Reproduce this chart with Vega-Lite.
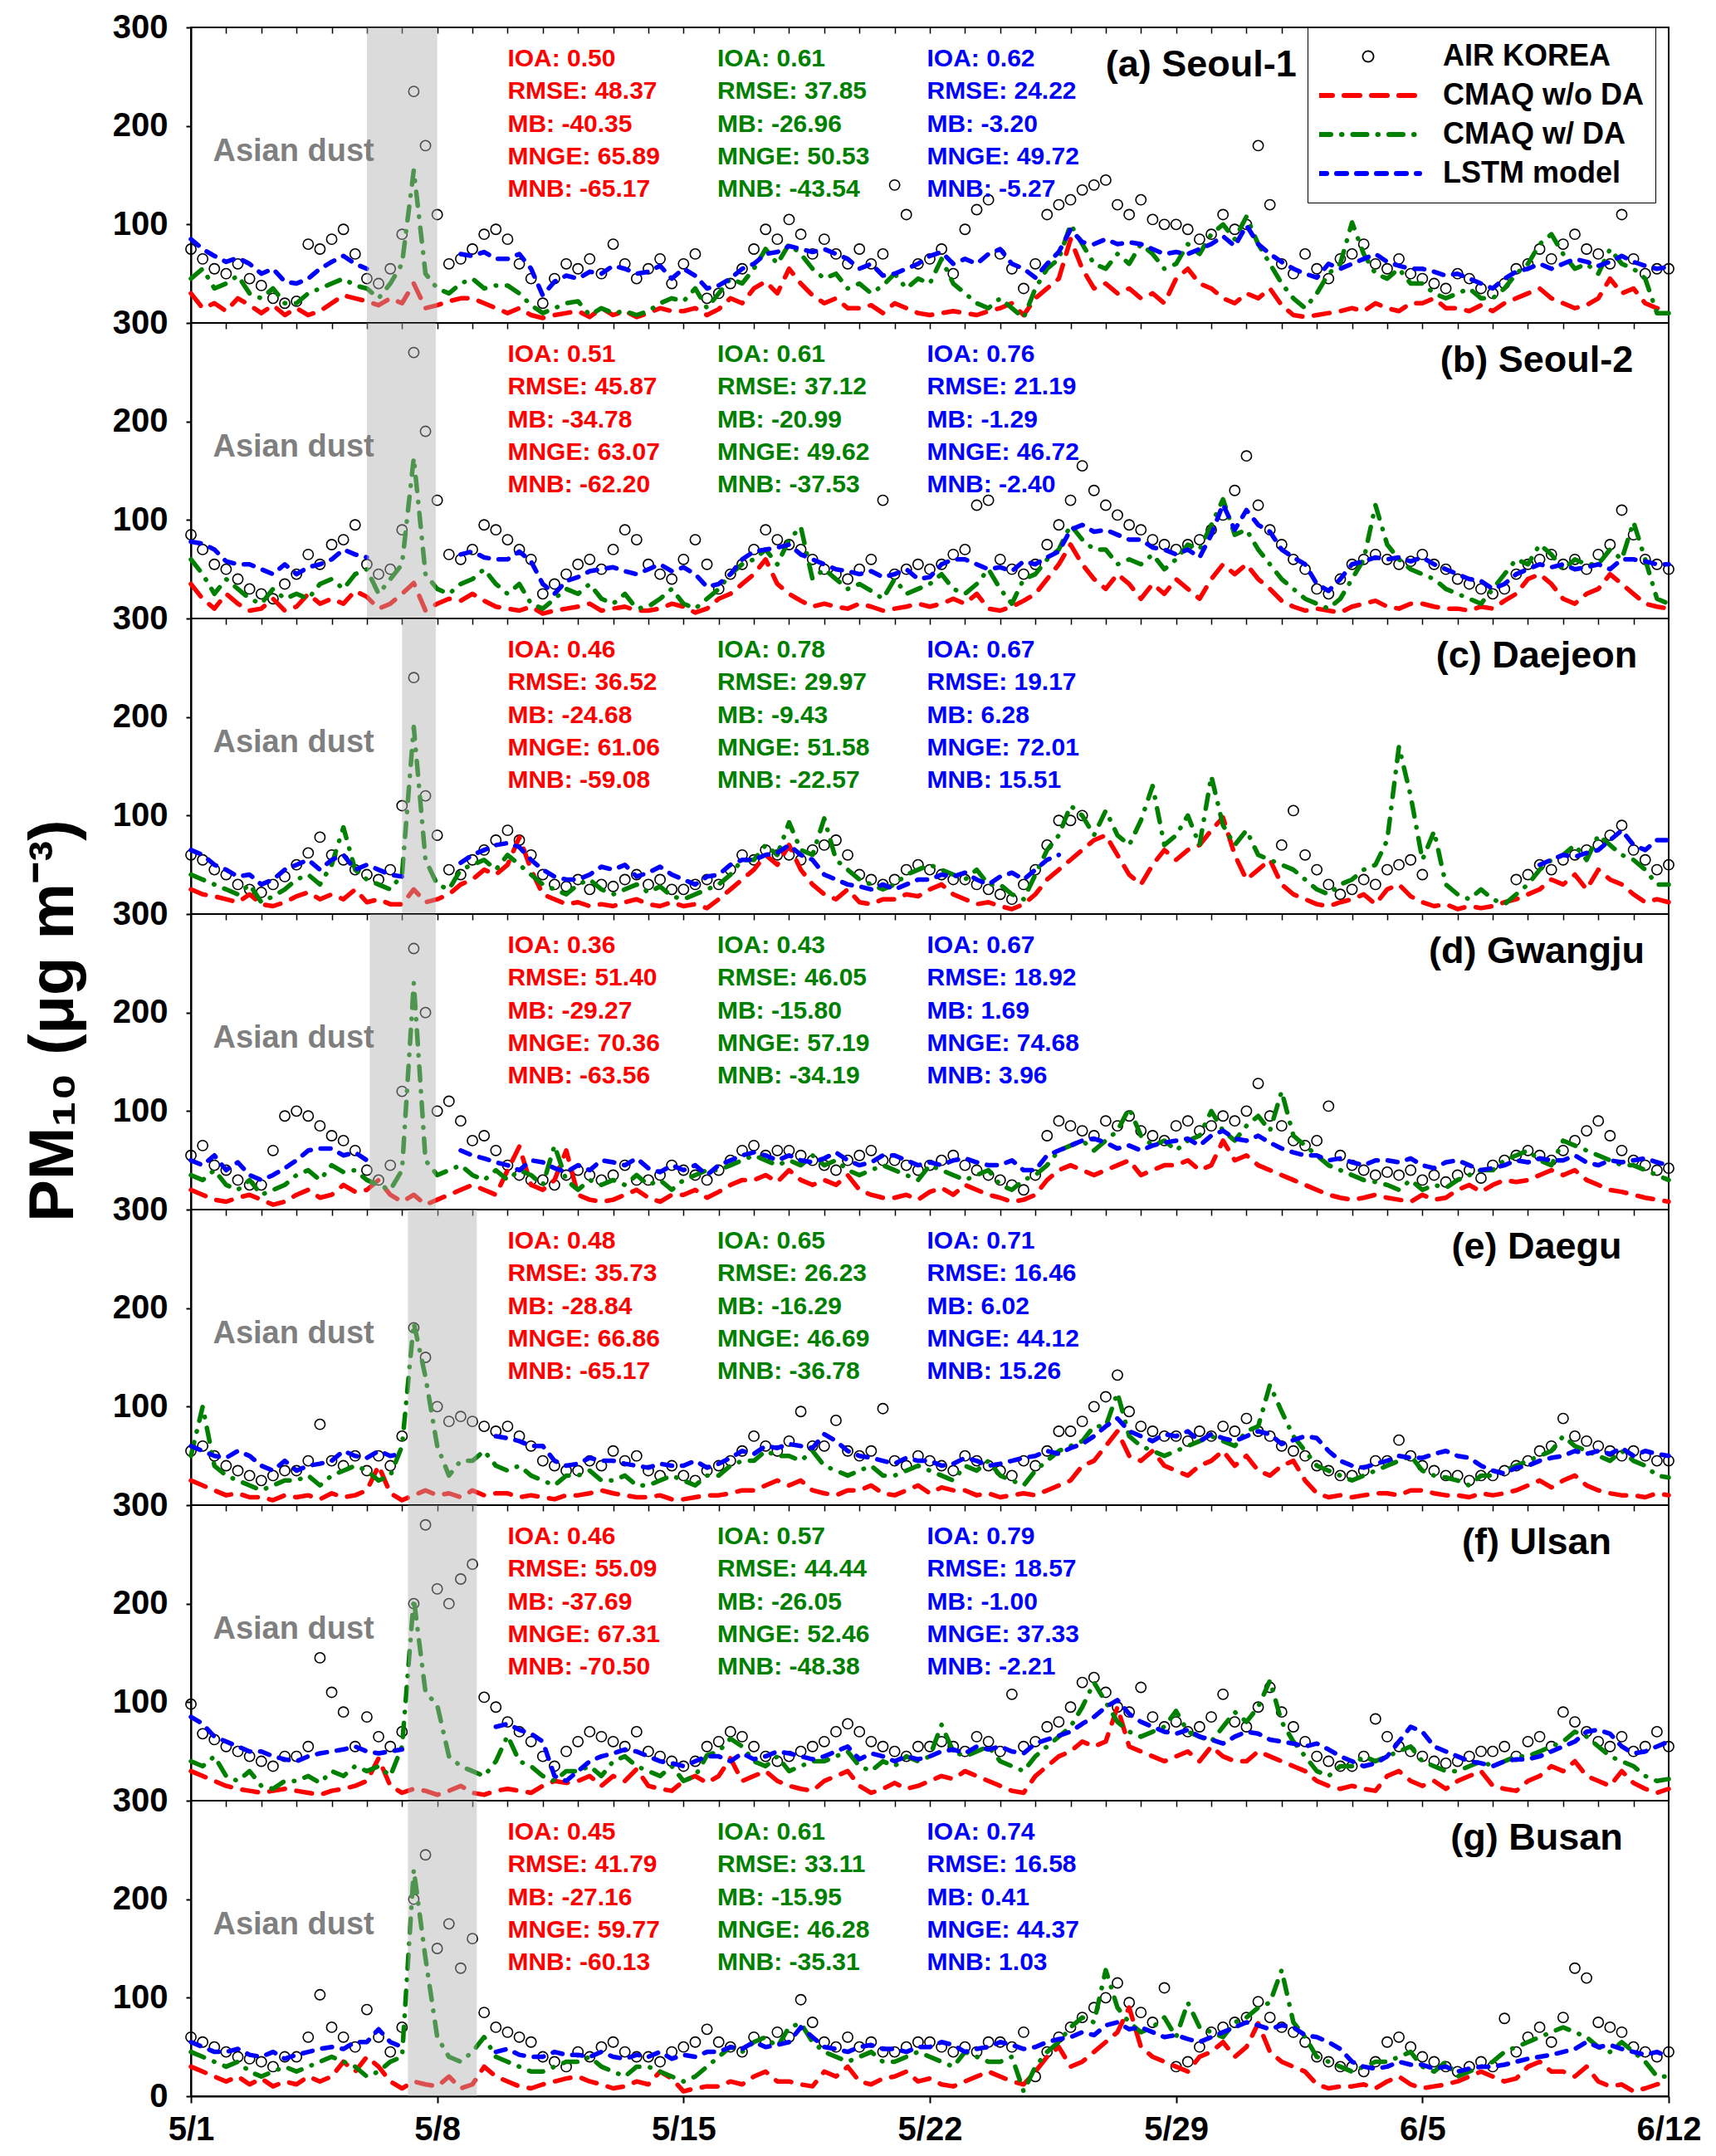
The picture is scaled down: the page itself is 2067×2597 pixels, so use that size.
{"$schema":"https://vega.github.io/schema/vega-lite/v6.json","background":"white","padding":{"left":25,"top":12,"right":10,"bottom":10},"bounds":"flush","spacing":0,
"config":{"font":"Liberation Sans","view":{"stroke":"black","strokeWidth":2},"text":{"font":"Liberation Sans","fontWeight":"bold"},
"axis":{"labelFont":"Liberation Sans","labelFontSize":40,"labelFontWeight":"bold","labelColor":"black","tickColor":"black","domainColor":"black","domainWidth":2,"tickWidth":2,"tickSize":6,"labelPadding":22,"grid":false,"titleColor":"black"}},
"resolve":{"scale":{"color":"shared","strokeDash":"shared"}},
"datasets":{
"a":[{"h":0,"o":75,"r":30,"g":45,"b":85},{"h":8,"o":65,"r":15,"g":55,"b":75},{"h":16,"o":55,"r":20,"g":35,"b":68},{"h":24,"o":50,"r":12,"g":40,"b":62},{"h":32,"o":60,"r":25,"g":48,"b":66},{"h":40,"o":45,"r":18,"g":30,"b":60},{"h":48,"o":38,"r":10,"g":25,"b":50},{"h":56,"o":25,"r":18,"g":35,"b":55},{"h":64,"o":20,"r":8,"g":20,"b":42},{"h":72,"o":22,"r":15,"g":20,"b":40},{"h":80,"o":80,"r":8,"g":30,"b":45},{"h":88,"o":75,"r":12,"g":35,"b":55},{"h":96,"o":85,"r":20,"g":40,"b":62},{"h":104,"o":95,"r":28,"g":45,"b":68},{"h":112,"o":70,"r":25,"g":38,"b":60},{"h":120,"o":45,"r":22,"g":35,"b":55},{"h":128,"o":40,"r":18,"g":25},{"h":136,"o":55,"r":25,"g":40},{"h":144,"o":90,"r":20,"g":60},{"h":152,"o":235,"r":40,"g":155},{"h":160,"o":180,"r":15,"g":50},{"h":168,"o":110,"r":18,"g":35},{"h":176,"o":60,"r":22,"g":30},{"h":184,"o":65,"r":25,"g":40,"b":70},{"h":192,"o":75,"r":25,"g":45,"b":68},{"h":200,"o":90,"r":20,"g":35,"b":72},{"h":208,"o":95,"r":15,"g":38,"b":65},{"h":216,"o":85,"r":10,"g":38,"b":65},{"h":224,"o":60,"r":15,"g":30,"b":70},{"h":232,"o":45,"r":8,"g":18,"b":55},{"h":240,"o":20,"r":5,"g":10,"b":28},{"h":248,"o":45,"r":8,"g":15,"b":42},{"h":256,"o":60,"r":10,"g":20,"b":48},{"h":264,"o":55,"r":12,"g":22,"b":45},{"h":272,"o":65,"r":6,"g":8,"b":52},{"h":280,"o":50,"r":15,"g":15,"b":50},{"h":288,"o":80,"r":8,"g":10,"b":58},{"h":296,"o":60,"r":12,"g":12,"b":55},{"h":304,"o":45,"r":6,"g":8,"b":50},{"h":312,"o":55,"r":10,"g":12,"b":52},{"h":320,"o":65,"r":15,"g":20,"b":58},{"h":328,"o":40,"r":12,"g":25,"b":45},{"h":336,"o":60,"r":12,"g":22,"b":55},{"h":344,"o":70,"r":15,"g":35,"b":48},{"h":352,"o":25,"r":8,"g":15,"b":35},{"h":360,"o":30,"r":14,"g":30,"b":38},{"h":368,"o":40,"r":25,"g":45,"b":45},{"h":376,"o":55,"r":20,"g":40,"b":55},{"h":384,"o":75,"r":35,"g":55,"b":60},{"h":392,"o":95,"r":42,"g":75,"b":70},{"h":400,"o":85,"r":30,"g":60,"b":72},{"h":408,"o":105,"r":55,"g":80,"b":78},{"h":416,"o":90,"r":40,"g":70,"b":75},{"h":424,"o":70,"r":28,"g":55,"b":72},{"h":432,"o":85,"r":20,"g":45,"b":75},{"h":440,"o":70,"r":25,"g":50,"b":70},{"h":448,"o":60,"r":15,"g":35,"b":65},{"h":456,"o":75,"r":15,"g":40,"b":55},{"h":464,"o":60,"r":18,"g":30,"b":60},{"h":472,"o":70,"r":10,"g":38,"b":48},{"h":480,"o":140,"r":20,"g":50,"b":50},{"h":488,"o":110,"r":15,"g":35,"b":55},{"h":496,"o":60,"r":10,"g":45,"b":60},{"h":504,"o":65,"r":8,"g":40,"b":68},{"h":512,"o":75,"r":10,"g":65,"b":72},{"h":520,"o":50,"r":12,"g":40,"b":60},{"h":528,"o":95,"r":10,"g":30,"b":65},{"h":536,"o":115,"r":8,"g":20,"b":60},{"h":544,"o":125,"r":12,"g":15,"b":70},{"h":552,"o":70,"r":15,"g":25,"b":75},{"h":560,"o":55,"r":20,"g":15,"b":60},{"h":568,"o":35,"r":8,"g":5,"b":55},{"h":576,"o":60,"r":25,"g":35,"b":46},{"h":584,"o":110,"r":35,"g":55,"b":60},{"h":592,"o":120,"r":45,"g":65,"b":72},{"h":600,"o":125,"r":85,"g":100,"b":95},{"h":608,"o":135,"r":55,"g":80,"b":82},{"h":616,"o":140,"r":35,"g":60,"b":80},{"h":624,"o":145,"r":40,"g":55,"b":85},{"h":632,"o":120,"r":30,"g":70,"b":80},{"h":640,"o":110,"r":35,"g":60,"b":82},{"h":648,"o":125,"r":25,"g":80,"b":80},{"h":656,"o":105,"r":30,"g":70,"b":75},{"h":664,"o":100,"r":20,"g":55,"b":70},{"h":672,"o":100,"r":45,"g":60,"b":72},{"h":680,"o":95,"r":55,"g":80,"b":70},{"h":688,"o":85,"r":40,"g":70,"b":75},{"h":696,"o":90,"r":35,"g":90,"b":80},{"h":704,"o":110,"r":25,"g":100,"b":88},{"h":712,"o":95,"r":20,"g":85,"b":78},{"h":720,"o":100,"r":30,"g":108,"b":99},{"h":728,"o":180,"r":25,"g":80,"b":80},{"h":736,"o":120,"r":35,"g":60,"b":70},{"h":744,"o":60,"r":18,"g":40,"b":62},{"h":752,"o":50,"r":8,"g":25,"b":55},{"h":760,"o":70,"r":6,"g":15,"b":50},{"h":768,"o":55,"r":8,"g":30,"b":46},{"h":776,"o":45,"r":10,"g":50,"b":60},{"h":784,"o":65,"r":12,"g":60,"b":55},{"h":792,"o":70,"r":15,"g":102,"b":60},{"h":800,"o":80,"r":12,"g":70,"b":65},{"h":808,"o":60,"r":20,"g":50,"b":70},{"h":816,"o":55,"r":15,"g":45,"b":62},{"h":824,"o":65,"r":12,"g":55,"b":58},{"h":832,"o":50,"r":20,"g":40,"b":55},{"h":840,"o":45,"r":20,"g":40,"b":55},{"h":848,"o":40,"r":25,"g":30,"b":52},{"h":856,"o":35,"r":15,"g":25,"b":48},{"h":864,"o":50,"r":15,"g":30,"b":50},{"h":872,"o":45,"r":12,"g":35,"b":45},{"h":880,"o":35,"r":18,"g":25,"b":40},{"h":888,"o":30,"r":12,"g":25,"b":35},{"h":896,"o":40,"r":20,"g":35,"b":45},{"h":904,"o":55,"r":25,"g":50,"b":52},{"h":912,"o":60,"r":30,"g":60,"b":55},{"h":920,"o":75,"r":35,"g":80,"b":60},{"h":928,"o":65,"r":25,"g":90,"b":55},{"h":936,"o":80,"r":20,"g":70,"b":60},{"h":944,"o":90,"r":15,"g":55,"b":65},{"h":952,"o":75,"r":18,"g":60,"b":62},{"h":960,"o":70,"r":25,"g":50,"b":58},{"h":968,"o":60,"r":45,"g":75,"b":62},{"h":976,"o":110,"r":30,"g":60,"b":68},{"h":984,"o":65,"r":35,"g":55,"b":62},{"h":992,"o":50,"r":20,"g":45,"b":58},{"h":1000,"o":55,"r":15,"g":10,"b":55},{"h":1008,"o":55,"r":12,"g":10,"b":57}],
"b":[{"h":0,"o":85,"r":35,"g":60,"b":78},{"h":8,"o":70,"r":20,"g":45,"b":76},{"h":16,"o":55,"r":10,"g":25,"b":70},{"h":24,"o":50,"r":25,"g":40,"b":58},{"h":32,"o":40,"r":15,"g":30,"b":55},{"h":40,"o":30,"r":8,"g":20,"b":55},{"h":48,"o":25,"r":10,"g":15,"b":50},{"h":56,"o":20,"r":20,"g":30,"b":45},{"h":64,"o":35,"r":8,"g":20,"b":55},{"h":72,"o":45,"r":12,"g":25,"b":45},{"h":80,"o":65,"r":25,"g":20,"b":52},{"h":88,"o":55,"r":15,"g":35,"b":55},{"h":96,"o":75,"r":20,"g":40,"b":60},{"h":104,"o":80,"r":15,"g":30,"b":70},{"h":112,"o":95,"r":28,"g":45,"b":65},{"h":120,"o":55,"r":22,"g":50,"b":62},{"h":128,"o":45,"r":10,"g":25},{"h":136,"o":50,"r":15,"g":40},{"h":144,"o":90,"r":25,"g":55},{"h":152,"o":270,"r":36,"g":163},{"h":160,"o":190,"r":8,"g":45},{"h":168,"o":120,"r":15,"g":30},{"h":176,"o":65,"r":20,"g":25},{"h":184,"o":60,"r":18,"g":35,"b":65},{"h":192,"o":70,"r":25,"g":40,"b":68},{"h":200,"o":95,"r":18,"g":50,"b":62},{"h":208,"o":90,"r":12,"g":35,"b":60},{"h":216,"o":80,"r":10,"g":25,"b":60},{"h":224,"o":70,"r":8,"g":35,"b":68},{"h":232,"o":60,"r":12,"g":15,"b":58},{"h":240,"o":25,"r":5,"g":10,"b":35},{"h":248,"o":35,"r":8,"g":20,"b":25},{"h":256,"o":45,"r":10,"g":30,"b":38},{"h":264,"o":55,"r":12,"g":25,"b":42},{"h":272,"o":60,"r":15,"g":35,"b":48},{"h":280,"o":50,"r":8,"g":20,"b":50},{"h":288,"o":70,"r":10,"g":15,"b":52},{"h":296,"o":90,"r":12,"g":25,"b":48},{"h":304,"o":80,"r":8,"g":10,"b":45},{"h":312,"o":55,"r":8,"g":12,"b":50},{"h":320,"o":45,"r":10,"g":20,"b":55},{"h":328,"o":40,"r":15,"g":30,"b":48},{"h":336,"o":60,"r":12,"g":15,"b":52},{"h":344,"o":80,"r":6,"g":10,"b":45},{"h":352,"o":55,"r":10,"g":20,"b":32},{"h":360,"o":30,"r":20,"g":30,"b":35},{"h":368,"o":45,"r":25,"g":45,"b":45},{"h":376,"o":55,"r":35,"g":55,"b":60},{"h":384,"o":70,"r":45,"g":60,"b":68},{"h":392,"o":90,"r":60,"g":70,"b":70},{"h":400,"o":80,"r":35,"g":55,"b":72},{"h":408,"o":75,"r":25,"g":80,"b":75},{"h":416,"o":70,"r":18,"g":93,"b":65},{"h":424,"o":60,"r":12,"g":40,"b":60},{"h":432,"o":50,"r":15,"g":50,"b":55},{"h":440,"o":45,"r":12,"g":40,"b":50},{"h":448,"o":40,"r":10,"g":30,"b":48},{"h":456,"o":50,"r":15,"g":35,"b":45},{"h":464,"o":60,"r":12,"g":28,"b":48},{"h":472,"o":120,"r":8,"g":20,"b":42},{"h":480,"o":45,"r":10,"g":40,"b":45},{"h":488,"o":50,"r":12,"g":25,"b":50},{"h":496,"o":55,"r":15,"g":30,"b":40},{"h":504,"o":50,"r":12,"g":35,"b":42},{"h":512,"o":55,"r":15,"g":45,"b":55},{"h":520,"o":65,"r":20,"g":30,"b":60},{"h":528,"o":70,"r":15,"g":25,"b":60},{"h":536,"o":115,"r":25,"g":35,"b":55},{"h":544,"o":120,"r":10,"g":50,"b":50},{"h":552,"o":60,"r":8,"g":30,"b":52},{"h":560,"o":50,"r":12,"g":15,"b":48},{"h":568,"o":45,"r":18,"g":40,"b":58},{"h":576,"o":55,"r":25,"g":45,"b":55},{"h":584,"o":75,"r":40,"g":60,"b":62},{"h":592,"o":95,"r":55,"g":70,"b":68},{"h":600,"o":120,"r":75,"g":95,"b":90},{"h":608,"o":155,"r":55,"g":80,"b":95},{"h":616,"o":130,"r":40,"g":70,"b":88},{"h":624,"o":115,"r":30,"g":70,"b":90},{"h":632,"o":105,"r":45,"g":55,"b":85},{"h":640,"o":95,"r":35,"g":60,"b":80},{"h":648,"o":90,"r":20,"g":55,"b":80},{"h":656,"o":80,"r":35,"g":65,"b":72},{"h":664,"o":75,"r":25,"g":50,"b":70},{"h":672,"o":70,"r":40,"g":60,"b":65},{"h":680,"o":75,"r":30,"g":75,"b":70},{"h":688,"o":80,"r":20,"g":70,"b":62},{"h":696,"o":90,"r":40,"g":95,"b":85},{"h":704,"o":105,"r":55,"g":121,"b":116},{"h":712,"o":130,"r":45,"g":85,"b":90},{"h":720,"o":165,"r":55,"g":90,"b":110},{"h":728,"o":115,"r":40,"g":70,"b":95},{"h":736,"o":90,"r":30,"g":55,"b":88},{"h":744,"o":75,"r":18,"g":40,"b":70},{"h":752,"o":60,"r":12,"g":30,"b":62},{"h":760,"o":50,"r":8,"g":20,"b":55},{"h":768,"o":30,"r":10,"g":15,"b":35},{"h":776,"o":25,"r":8,"g":10,"b":28},{"h":784,"o":40,"r":6,"g":20,"b":40},{"h":792,"o":55,"r":12,"g":40,"b":55},{"h":800,"o":60,"r":15,"g":60,"b":58},{"h":808,"o":65,"r":18,"g":115,"b":62},{"h":816,"o":60,"r":12,"g":75,"b":60},{"h":824,"o":55,"r":10,"g":60,"b":62},{"h":832,"o":58,"r":15,"g":50,"b":58},{"h":840,"o":65,"r":15,"g":45,"b":62},{"h":848,"o":55,"r":12,"g":40,"b":55},{"h":856,"o":50,"r":10,"g":30,"b":50},{"h":864,"o":40,"r":10,"g":25,"b":45},{"h":872,"o":35,"r":8,"g":20,"b":40},{"h":880,"o":30,"r":12,"g":15,"b":38},{"h":888,"o":25,"r":10,"g":30,"b":30},{"h":896,"o":30,"r":18,"g":45,"b":35},{"h":904,"o":45,"r":25,"g":60,"b":45},{"h":912,"o":55,"r":40,"g":55,"b":50},{"h":920,"o":60,"r":45,"g":75,"b":55},{"h":928,"o":65,"r":35,"g":65,"b":52},{"h":936,"o":55,"r":20,"g":50,"b":55},{"h":944,"o":60,"r":15,"g":60,"b":50},{"h":952,"o":50,"r":25,"g":55,"b":52},{"h":960,"o":65,"r":30,"g":55,"b":55},{"h":968,"o":75,"r":45,"g":70,"b":50},{"h":976,"o":110,"r":35,"g":60,"b":60},{"h":984,"o":85,"r":25,"g":98,"b":60},{"h":992,"o":60,"r":15,"g":60,"b":58},{"h":1000,"o":55,"r":12,"g":20,"b":55},{"h":1008,"o":50,"r":10,"g":15,"b":55}],
"c":[{"h":0,"o":60,"r":25,"g":40,"b":65},{"h":8,"o":55,"r":20,"g":35,"b":60},{"h":16,"o":45,"r":18,"g":30,"b":50},{"h":24,"o":40,"r":15,"g":25,"b":45},{"h":32,"o":30,"r":12,"g":20,"b":38},{"h":40,"o":25,"r":20,"g":30,"b":40},{"h":48,"o":22,"r":10,"g":12,"b":30},{"h":56,"o":30,"r":8,"g":18,"b":35},{"h":64,"o":38,"r":12,"g":25,"b":45},{"h":72,"o":50,"r":18,"g":35,"b":50},{"h":80,"o":62,"r":22,"g":40,"b":55},{"h":88,"o":78,"r":15,"g":30,"b":45},{"h":96,"o":60,"r":20,"g":50,"b":55},{"h":104,"o":55,"r":15,"g":88,"b":60},{"h":112,"o":45,"r":25,"g":45,"b":45},{"h":120,"o":40,"r":12,"g":35,"b":50},{"h":128,"o":35,"r":15,"g":30,"b":45},{"h":136,"o":45,"r":10,"g":25,"b":40},{"h":144,"o":110,"r":10,"g":40,"b":38},{"h":152,"o":240,"r":25,"g":190},{"h":160,"o":120,"r":12,"g":55},{"h":168,"o":80,"r":15,"g":30},{"h":176,"o":45,"r":20,"g":25},{"h":184,"o":40,"r":30,"g":45,"b":52},{"h":192,"o":55,"r":35,"g":50,"b":60},{"h":200,"o":65,"r":45,"g":55,"b":65},{"h":208,"o":75,"r":40,"g":45,"b":70},{"h":216,"o":85,"r":50,"g":60,"b":72},{"h":224,"o":75,"r":78,"g":50,"b":68},{"h":232,"o":60,"r":45,"g":40,"b":55},{"h":240,"o":40,"r":20,"g":30,"b":45},{"h":248,"o":30,"r":15,"g":25,"b":38},{"h":256,"o":28,"r":10,"g":20,"b":35},{"h":264,"o":35,"r":12,"g":30,"b":35},{"h":272,"o":25,"r":8,"g":35,"b":40},{"h":280,"o":30,"r":10,"g":25,"b":48},{"h":288,"o":28,"r":8,"g":20,"b":45},{"h":296,"o":35,"r":12,"g":25,"b":50},{"h":304,"o":40,"r":15,"g":30,"b":38},{"h":312,"o":30,"r":10,"g":22,"b":42},{"h":320,"o":35,"r":8,"g":28,"b":48},{"h":328,"o":25,"r":12,"g":18,"b":40},{"h":336,"o":25,"r":8,"g":15,"b":35},{"h":344,"o":30,"r":10,"g":20,"b":30},{"h":352,"o":35,"r":6,"g":25,"b":38},{"h":360,"o":30,"r":15,"g":30,"b":40},{"h":368,"o":45,"r":25,"g":40,"b":50},{"h":376,"o":60,"r":35,"g":55,"b":55},{"h":384,"o":55,"r":45,"g":55,"b":55},{"h":392,"o":65,"r":60,"g":70,"b":60},{"h":400,"o":60,"r":50,"g":60,"b":62},{"h":408,"o":60,"r":70,"g":93,"b":70},{"h":416,"o":55,"r":45,"g":65,"b":60},{"h":424,"o":65,"r":30,"g":60,"b":55},{"h":432,"o":70,"r":20,"g":97,"b":40},{"h":440,"o":75,"r":15,"g":55,"b":35},{"h":448,"o":60,"r":25,"g":45,"b":30},{"h":456,"o":40,"r":12,"g":35,"b":28},{"h":464,"o":35,"r":10,"g":30,"b":25},{"h":472,"o":30,"r":15,"g":25,"b":30},{"h":480,"o":35,"r":15,"g":30,"b":25},{"h":488,"o":45,"r":20,"g":40,"b":30},{"h":496,"o":50,"r":18,"g":45,"b":35},{"h":504,"o":45,"r":25,"g":50,"b":35},{"h":512,"o":40,"r":30,"g":45,"b":40},{"h":520,"o":35,"r":20,"g":40,"b":38},{"h":528,"o":35,"r":15,"g":35,"b":42},{"h":536,"o":30,"r":10,"g":45,"b":35},{"h":544,"o":25,"r":12,"g":30,"b":30},{"h":552,"o":20,"r":8,"g":30,"b":38},{"h":560,"o":15,"r":5,"g":20,"b":42},{"h":568,"o":30,"r":10,"g":15,"b":35},{"h":576,"o":45,"r":20,"g":40,"b":45},{"h":584,"o":70,"r":35,"g":65,"b":55},{"h":592,"o":95,"r":45,"g":80,"b":60},{"h":600,"o":95,"r":55,"g":110},{"h":608,"o":100,"r":65,"g":100},{"h":616,"r":75,"g":80},{"h":624,"r":80,"g":105},{"h":632,"r":60,"g":80},{"h":640,"r":40,"g":70},{"h":648,"r":30,"g":95},{"h":656,"r":50,"g":130},{"h":664,"r":65,"g":70},{"h":672,"r":55,"g":80},{"h":680,"r":65,"g":100},{"h":688,"r":70,"g":70},{"h":696,"r":85,"g":140},{"h":704,"r":98,"g":90},{"h":712,"r":60,"g":70},{"h":720,"r":35,"g":85},{"h":728,"r":45,"g":60},{"h":736,"r":55,"g":55},{"h":744,"o":70,"r":30,"g":50},{"h":752,"o":105,"r":20,"g":45},{"h":760,"o":60,"r":15,"g":35},{"h":768,"o":45,"r":10,"g":25},{"h":776,"o":30,"r":8,"g":20},{"h":784,"o":20,"r":12,"g":30},{"h":792,"o":25,"r":15,"g":35},{"h":800,"o":35,"r":20,"g":45},{"h":808,"o":30,"r":10,"g":50},{"h":816,"o":45,"r":25,"g":75},{"h":824,"o":50,"r":30,"g":170},{"h":832,"o":55,"r":18,"g":120},{"h":840,"o":40,"r":12,"g":55},{"h":848,"r":8,"g":84},{"h":856,"r":10,"g":30},{"h":864,"r":5,"g":20},{"h":872,"r":8,"g":15},{"h":880,"r":6,"g":25},{"h":888,"r":8,"g":15},{"h":896,"r":12,"g":10},{"h":904,"o":35,"r":15,"g":20},{"h":912,"o":40,"r":20,"g":30},{"h":920,"o":50,"r":25,"g":45,"b":50},{"h":928,"o":45,"r":35,"g":55,"b":55},{"h":936,"o":55,"r":30,"g":60,"b":60},{"h":944,"o":60,"r":40,"g":70,"b":58},{"h":952,"o":65,"r":25,"g":55,"b":62},{"h":960,"o":70,"r":45,"g":80,"b":65},{"h":968,"o":80,"r":35,"g":70,"b":75},{"h":976,"o":90,"r":30,"g":60,"b":85},{"h":984,"o":65,"r":20,"g":55,"b":70},{"h":992,"o":55,"r":12,"g":45,"b":65},{"h":1000,"o":45,"r":15,"g":30,"b":75},{"h":1008,"o":50,"r":12,"g":30,"b":75}],
"d":[{"h":0,"o":55,"r":20,"g":35,"b":50},{"h":8,"o":65,"r":15,"g":30,"b":45},{"h":16,"o":45,"r":10,"g":40,"b":55},{"h":24,"o":40,"r":8,"g":25,"b":40},{"h":32,"o":30,"r":12,"g":20,"b":48},{"h":40,"o":25,"r":15,"g":30,"b":35},{"h":48,"o":25,"r":10,"g":15,"b":30},{"h":56,"o":60,"r":5,"g":20,"b":35},{"h":64,"o":95,"r":8,"g":25,"b":42},{"h":72,"o":100,"r":15,"g":35,"b":50},{"h":80,"o":95,"r":20,"g":40,"b":60},{"h":88,"o":85,"r":12,"g":30,"b":62},{"h":96,"o":75,"r":15,"g":45,"b":62},{"h":104,"o":70,"r":25,"g":38,"b":55},{"h":112,"o":60,"r":18,"g":40,"b":58},{"h":120,"o":40,"r":20,"g":30,"b":50},{"h":128,"o":30,"r":30,"g":25},{"h":136,"o":45,"r":15,"g":20},{"h":144,"o":120,"r":8,"g":40},{"h":152,"o":265,"r":15,"g":230},{"h":160,"o":200,"r":5,"g":50},{"h":168,"o":100,"r":10,"g":35},{"h":176,"o":110,"r":15,"g":40},{"h":184,"o":90,"r":20,"g":45,"b":60},{"h":192,"o":70,"r":25,"g":35,"b":55},{"h":200,"o":75,"r":20,"g":30,"b":52},{"h":208,"o":60,"r":15,"g":40,"b":48},{"h":216,"o":45,"r":40,"g":30,"b":45},{"h":224,"o":35,"r":64,"g":40,"b":40},{"h":232,"o":30,"r":25,"g":35,"b":50},{"h":240,"o":30,"r":20,"g":25,"b":48},{"h":248,"o":25,"r":30,"g":65,"b":42},{"h":256,"o":35,"r":60,"g":30,"b":38},{"h":264,"o":40,"r":15,"g":20,"b":45},{"h":272,"o":35,"r":10,"g":30,"b":40},{"h":280,"o":30,"r":8,"g":25,"b":50},{"h":288,"o":35,"r":10,"g":30,"b":48},{"h":296,"o":45,"r":15,"g":25,"b":45},{"h":304,"o":30,"r":20,"g":35,"b":52},{"h":312,"o":30,"r":12,"g":25,"b":42},{"h":320,"o":35,"r":8,"g":30,"b":38},{"h":328,"o":45,"r":15,"g":20,"b":45},{"h":336,"o":40,"r":15,"g":30,"b":40},{"h":344,"o":35,"r":20,"g":35,"b":45},{"h":352,"o":30,"r":12,"g":40,"b":35},{"h":360,"o":40,"r":18,"g":40,"b":45},{"h":368,"o":50,"r":25,"g":45,"b":50},{"h":376,"o":60,"r":30,"g":50,"b":55},{"h":384,"o":65,"r":30,"g":55,"b":58},{"h":392,"o":55,"r":35,"g":50,"b":55},{"h":400,"o":60,"r":28,"g":45,"b":50},{"h":408,"o":60,"r":40,"g":50,"b":55},{"h":416,"o":55,"r":30,"g":45,"b":50},{"h":424,"o":50,"r":25,"g":55,"b":48},{"h":432,"o":45,"r":30,"g":45,"b":52},{"h":440,"o":40,"r":25,"g":50,"b":58},{"h":448,"o":50,"r":35,"g":40,"b":50},{"h":456,"o":55,"r":20,"g":35,"b":45},{"h":464,"o":60,"r":15,"g":40,"b":48},{"h":472,"o":50,"r":12,"g":45,"b":55},{"h":480,"o":50,"r":12,"g":40,"b":55},{"h":488,"o":45,"r":15,"g":35,"b":50},{"h":496,"o":40,"r":10,"g":30,"b":45},{"h":504,"o":45,"r":18,"g":45,"b":48},{"h":512,"o":50,"r":22,"g":40,"b":45},{"h":520,"o":55,"r":15,"g":35,"b":50},{"h":528,"o":45,"r":25,"g":30,"b":52},{"h":536,"o":40,"r":20,"g":35,"b":48},{"h":544,"o":35,"r":15,"g":40,"b":45},{"h":552,"o":30,"r":12,"g":25,"b":45},{"h":560,"o":25,"r":8,"g":20,"b":50},{"h":568,"o":20,"r":10,"g":30,"b":40},{"h":576,"o":35,"r":15,"g":35,"b":40},{"h":584,"o":75,"r":30,"g":45,"b":55},{"h":592,"o":90,"r":40,"g":60,"b":60},{"h":600,"o":85,"r":45,"g":65,"b":65},{"h":608,"o":80,"r":40,"g":70,"b":70},{"h":616,"o":75,"r":35,"g":60,"b":72},{"h":624,"o":90,"r":40,"g":70,"b":68},{"h":632,"o":85,"r":45,"g":80,"b":62},{"h":640,"o":95,"r":50,"g":103,"b":65},{"h":648,"o":80,"r":35,"g":75,"b":60},{"h":656,"o":75,"r":40,"g":65,"b":65},{"h":664,"o":70,"r":45,"g":70,"b":68},{"h":672,"o":85,"r":45,"g":60,"b":70},{"h":680,"o":90,"r":50,"g":70,"b":72},{"h":688,"o":80,"r":40,"g":75,"b":65},{"h":696,"o":85,"r":45,"g":100,"b":75},{"h":704,"o":95,"r":70,"g":80,"b":80},{"h":712,"o":90,"r":50,"g":70,"b":72},{"h":720,"o":100,"r":55,"g":85,"b":70},{"h":728,"o":128,"r":45,"g":95,"b":75},{"h":736,"o":95,"r":40,"g":80,"b":68},{"h":744,"o":85,"r":35,"g":120,"b":62},{"h":752,"o":70,"r":30,"g":75,"b":58},{"h":760,"o":65,"r":25,"g":65,"b":55},{"h":768,"o":70,"r":20,"g":55,"b":55},{"h":776,"o":105,"r":15,"g":45,"b":50},{"h":784,"o":55,"r":12,"g":40,"b":52},{"h":792,"o":45,"r":10,"g":35,"b":48},{"h":800,"o":40,"r":12,"g":30,"b":45},{"h":808,"o":35,"r":15,"g":28,"b":50},{"h":816,"o":38,"r":12,"g":25,"b":50},{"h":824,"o":35,"r":10,"g":20,"b":48},{"h":832,"o":40,"r":8,"g":30,"b":52},{"h":840,"o":30,"r":15,"g":20,"b":45},{"h":848,"o":35,"r":10,"g":25,"b":42},{"h":856,"o":28,"r":12,"g":22,"b":48},{"h":864,"o":35,"r":20,"g":30,"b":50},{"h":872,"o":40,"r":25,"g":35,"b":45},{"h":880,"o":32,"r":18,"g":40,"b":40},{"h":888,"o":45,"r":25,"g":40,"b":42},{"h":896,"o":50,"r":30,"g":50,"b":45},{"h":904,"o":55,"r":28,"g":55,"b":50},{"h":912,"o":60,"r":30,"g":60,"b":48},{"h":920,"o":55,"r":35,"g":50,"b":52},{"h":928,"o":50,"r":40,"g":45,"b":50},{"h":936,"o":60,"r":35,"g":70,"b":50},{"h":944,"o":70,"r":40,"g":65,"b":55},{"h":952,"o":80,"r":30,"g":60,"b":48},{"h":960,"o":90,"r":25,"g":55,"b":45},{"h":968,"o":75,"r":20,"g":50,"b":50},{"h":976,"o":60,"r":18,"g":45,"b":48},{"h":984,"o":50,"r":15,"g":45,"b":50},{"h":992,"o":45,"r":12,"g":40,"b":52},{"h":1000,"o":40,"r":10,"g":35,"b":48},{"h":1008,"o":42,"r":8,"g":30,"b":45}],
"e":[{"h":0,"o":55,"r":25,"g":50,"b":60},{"h":8,"o":60,"r":20,"g":100,"b":55},{"h":16,"o":50,"r":15,"g":40,"b":50},{"h":24,"o":40,"r":10,"g":30,"b":48},{"h":32,"o":35,"r":12,"g":25,"b":55},{"h":40,"o":30,"r":8,"g":20,"b":50},{"h":48,"o":25,"r":8,"g":15,"b":40},{"h":56,"o":30,"r":5,"g":20,"b":35},{"h":64,"o":35,"r":10,"g":25,"b":45},{"h":72,"o":35,"r":8,"g":25,"b":35},{"h":80,"o":45,"r":10,"g":30,"b":40},{"h":88,"o":82,"r":6,"g":20,"b":42},{"h":96,"o":45,"r":12,"g":30,"b":45},{"h":104,"o":40,"r":8,"g":35,"b":55},{"h":112,"o":50,"r":10,"g":40,"b":50},{"h":120,"o":35,"r":15,"g":35,"b":48},{"h":128,"o":50,"r":40,"g":25,"b":55},{"h":136,"o":40,"r":12,"g":30,"b":50},{"h":144,"o":70,"r":5,"g":60,"b":52},{"h":152,"o":180,"r":10,"g":185},{"h":160,"o":150,"r":15,"g":130},{"h":168,"o":100,"r":10,"g":60},{"h":176,"o":85,"r":12,"g":30},{"h":184,"o":90,"r":8,"g":45},{"h":192,"o":85,"r":15,"g":45},{"h":200,"o":80,"r":10,"g":55},{"h":208,"o":75,"r":12,"g":40,"b":70},{"h":216,"o":80,"r":12,"g":35,"b":68},{"h":224,"o":70,"r":8,"g":40,"b":65},{"h":232,"o":60,"r":10,"g":30,"b":60},{"h":240,"o":45,"r":8,"g":25,"b":60},{"h":248,"o":40,"r":6,"g":20,"b":45},{"h":256,"o":35,"r":10,"g":30,"b":40},{"h":264,"o":35,"r":10,"g":30,"b":42},{"h":272,"o":45,"r":12,"g":35,"b":48},{"h":280,"o":40,"r":15,"g":25,"b":45},{"h":288,"o":55,"r":12,"g":25,"b":45},{"h":296,"o":45,"r":10,"g":30,"b":42},{"h":304,"o":50,"r":8,"g":20,"b":40},{"h":312,"o":35,"r":8,"g":20,"b":38},{"h":320,"o":30,"r":10,"g":25,"b":42},{"h":328,"o":40,"r":6,"g":30,"b":40},{"h":336,"o":30,"r":6,"g":25,"b":40},{"h":344,"o":25,"r":8,"g":20,"b":45},{"h":352,"o":35,"r":10,"g":30,"b":38},{"h":360,"o":40,"r":10,"g":30,"b":42},{"h":368,"o":45,"r":12,"g":40,"b":48},{"h":376,"o":55,"r":15,"g":45,"b":55},{"h":384,"o":70,"r":15,"g":45,"b":52},{"h":392,"o":60,"r":20,"g":55,"b":60},{"h":400,"o":55,"r":25,"g":50,"b":58},{"h":408,"o":65,"r":20,"g":50,"b":62},{"h":416,"o":95,"r":25,"g":45,"b":60},{"h":424,"o":60,"r":15,"g":55,"b":58},{"h":432,"o":60,"r":12,"g":40,"b":72},{"h":440,"o":86,"r":10,"g":35,"b":65},{"h":448,"o":55,"r":15,"g":30,"b":55},{"h":456,"o":50,"r":15,"g":35,"b":50},{"h":464,"o":55,"r":20,"g":40,"b":48},{"h":472,"o":98,"r":12,"g":30,"b":45},{"h":480,"o":45,"r":10,"g":30,"b":42},{"h":488,"o":40,"r":15,"g":35,"b":48},{"h":496,"o":50,"r":20,"g":40,"b":45},{"h":504,"o":45,"r":12,"g":35,"b":45},{"h":512,"o":40,"r":18,"g":30,"b":40},{"h":520,"o":35,"r":15,"g":25,"b":42},{"h":528,"o":50,"r":15,"g":40,"b":48},{"h":536,"o":45,"r":10,"g":35,"b":45},{"h":544,"o":40,"r":12,"g":45,"b":40},{"h":552,"o":35,"r":8,"g":30,"b":42},{"h":560,"o":30,"r":10,"g":25,"b":45},{"h":568,"o":45,"r":12,"g":20,"b":48},{"h":576,"o":40,"r":10,"g":35,"b":50},{"h":584,"o":55,"r":15,"g":45,"b":55},{"h":592,"o":75,"r":20,"g":55,"b":52},{"h":600,"o":75,"r":25,"g":60,"b":58},{"h":608,"o":85,"r":40,"g":65,"b":62},{"h":616,"o":100,"r":45,"g":80,"b":70},{"h":624,"o":110,"r":60,"g":80,"b":80},{"h":632,"o":132,"r":75,"g":114,"b":88},{"h":640,"o":95,"r":50,"g":70,"b":75},{"h":648,"o":80,"r":45,"g":60,"b":70},{"h":656,"o":75,"r":55,"g":55,"b":65},{"h":664,"o":70,"r":40,"g":50,"b":72},{"h":672,"o":70,"r":35,"g":55,"b":70},{"h":680,"o":65,"r":30,"g":60,"b":75},{"h":688,"o":75,"r":40,"g":65,"b":65},{"h":696,"o":70,"r":45,"g":70,"b":72},{"h":704,"o":80,"r":55,"g":65,"b":68},{"h":712,"o":75,"r":40,"g":60,"b":65},{"h":720,"o":88,"r":50,"g":75,"b":70},{"h":728,"o":75,"r":35,"g":80,"b":75},{"h":736,"o":70,"r":30,"g":122,"b":72},{"h":744,"o":60,"r":40,"g":95,"b":62},{"h":752,"o":55,"r":45,"g":70,"b":66},{"h":760,"o":50,"r":25,"g":55,"b":70},{"h":768,"o":40,"r":12,"g":40,"b":68},{"h":776,"o":35,"r":8,"g":35,"b":55},{"h":784,"o":30,"r":10,"g":30,"b":45},{"h":792,"o":30,"r":8,"g":25,"b":40},{"h":800,"o":35,"r":10,"g":30,"b":38},{"h":808,"o":45,"r":12,"g":35,"b":42},{"h":816,"o":45,"r":12,"g":40,"b":45},{"h":824,"o":66,"r":10,"g":45,"b":50},{"h":832,"o":50,"r":15,"g":50,"b":48},{"h":840,"o":40,"r":15,"g":35,"b":48},{"h":848,"o":35,"r":12,"g":30,"b":52},{"h":856,"o":30,"r":10,"g":28,"b":55},{"h":864,"o":30,"r":10,"g":25,"b":50},{"h":872,"o":25,"r":8,"g":20,"b":48},{"h":880,"o":30,"r":12,"g":30,"b":40},{"h":888,"o":30,"r":10,"g":30,"b":35},{"h":896,"o":35,"r":12,"g":35,"b":32},{"h":904,"o":40,"r":15,"g":40,"b":38},{"h":912,"o":45,"r":20,"g":45,"b":40},{"h":920,"o":55,"r":25,"g":50,"b":45},{"h":928,"o":60,"r":18,"g":55,"b":48},{"h":936,"o":88,"r":25,"g":70,"b":50},{"h":944,"o":70,"r":30,"g":60,"b":55},{"h":952,"o":65,"r":20,"g":55,"b":52},{"h":960,"o":60,"r":15,"g":50,"b":55},{"h":968,"o":55,"r":12,"g":45,"b":52},{"h":976,"o":50,"r":10,"g":55,"b":58},{"h":984,"o":55,"r":10,"g":45,"b":50},{"h":992,"o":50,"r":8,"g":40,"b":55},{"h":1000,"o":45,"r":12,"g":30,"b":52},{"h":1008,"o":45,"r":10,"g":28,"b":50}],
"f":[{"h":0,"o":98,"r":30,"g":40,"b":85},{"h":8,"o":68,"r":25,"g":35,"b":78},{"h":16,"o":62,"r":20,"g":45,"b":65},{"h":24,"o":55,"r":15,"g":25,"b":60},{"h":32,"o":50,"r":12,"g":20,"b":55},{"h":40,"o":45,"r":10,"g":30,"b":50},{"h":48,"o":40,"r":8,"g":15,"b":50},{"h":56,"o":35,"r":10,"g":12,"b":45},{"h":64,"o":45,"r":12,"g":20,"b":42},{"h":72,"o":45,"r":10,"g":20,"b":40},{"h":80,"o":55,"r":8,"g":25,"b":45},{"h":88,"o":145,"r":6,"g":18,"b":48},{"h":96,"o":110,"r":10,"g":30,"b":50},{"h":104,"o":90,"r":12,"g":25,"b":52},{"h":112,"o":55,"r":15,"g":35,"b":55},{"h":120,"o":85,"r":20,"g":30,"b":50},{"h":128,"o":65,"r":43,"g":35,"b":48},{"h":136,"o":55,"r":15,"g":25,"b":50},{"h":144,"o":70,"r":8,"g":55,"b":52},{"h":152,"o":200,"r":12,"g":205},{"h":160,"o":280,"r":10,"g":110},{"h":168,"o":215,"r":6,"g":97},{"h":176,"o":200,"r":10,"g":45},{"h":184,"o":225,"r":15,"g":35},{"h":192,"o":240,"r":8,"g":30},{"h":200,"o":105,"r":6,"g":25},{"h":208,"o":95,"r":10,"g":40,"b":75},{"h":216,"o":80,"r":12,"g":66,"b":78},{"h":224,"o":70,"r":10,"g":40,"b":72},{"h":232,"o":60,"r":8,"g":35,"b":68},{"h":240,"o":45,"r":15,"g":25,"b":60},{"h":248,"o":35,"r":20,"g":20,"b":25},{"h":256,"o":50,"r":18,"g":30,"b":20},{"h":264,"o":60,"r":20,"g":30,"b":30},{"h":272,"o":70,"r":25,"g":35,"b":40},{"h":280,"o":65,"r":15,"g":25,"b":45},{"h":288,"o":60,"r":25,"g":40,"b":48},{"h":296,"o":55,"r":20,"g":45,"b":52},{"h":304,"o":70,"r":32,"g":35,"b":50},{"h":312,"o":50,"r":15,"g":30,"b":45},{"h":320,"o":45,"r":12,"g":25,"b":40},{"h":328,"o":40,"r":10,"g":35,"b":38},{"h":336,"o":35,"r":20,"g":20,"b":35},{"h":344,"o":40,"r":25,"g":25,"b":40},{"h":352,"o":55,"r":18,"g":46,"b":45},{"h":360,"o":60,"r":25,"g":50,"b":45},{"h":368,"o":70,"r":43,"g":63,"b":40},{"h":376,"o":65,"r":20,"g":55,"b":48},{"h":384,"o":55,"r":25,"g":40,"b":42},{"h":392,"o":45,"r":30,"g":35,"b":45},{"h":400,"o":40,"r":20,"g":45,"b":50},{"h":408,"o":45,"r":15,"g":30,"b":48},{"h":416,"o":50,"r":12,"g":35,"b":45},{"h":424,"o":55,"r":10,"g":40,"b":42},{"h":432,"o":60,"r":20,"g":40,"b":45},{"h":440,"o":70,"r":25,"g":45,"b":50},{"h":448,"o":78,"r":30,"g":50,"b":55},{"h":456,"o":70,"r":15,"g":35,"b":42},{"h":464,"o":60,"r":8,"g":30,"b":48},{"h":472,"o":55,"r":12,"g":40,"b":45},{"h":480,"o":50,"r":18,"g":35,"b":40},{"h":488,"o":45,"r":12,"g":45,"b":45},{"h":496,"o":55,"r":15,"g":40,"b":42},{"h":504,"o":55,"r":20,"g":45,"b":45},{"h":512,"o":60,"r":25,"g":77,"b":50},{"h":520,"o":55,"r":22,"g":50,"b":52},{"h":528,"o":50,"r":30,"g":45,"b":48},{"h":536,"o":65,"r":25,"g":50,"b":55},{"h":544,"o":60,"r":20,"g":55,"b":52},{"h":552,"o":50,"r":15,"g":40,"b":55},{"h":560,"o":108,"r":10,"g":35,"b":50},{"h":568,"o":55,"r":8,"g":30,"b":48},{"h":576,"o":60,"r":25,"g":45,"b":58},{"h":584,"o":75,"r":35,"g":55,"b":62},{"h":592,"o":80,"r":45,"g":65,"b":66},{"h":600,"o":95,"r":50,"g":75,"b":70},{"h":608,"o":120,"r":60,"g":95,"b":78},{"h":616,"o":125,"r":55,"g":120,"b":85},{"h":624,"o":110,"r":60,"g":100,"b":95},{"h":632,"o":95,"r":95,"g":80,"b":102},{"h":640,"o":90,"r":55,"g":70,"b":88},{"h":648,"o":115,"r":50,"g":65,"b":80},{"h":656,"o":85,"r":45,"g":70,"b":75},{"h":664,"o":75,"r":40,"g":75,"b":70},{"h":672,"o":80,"r":45,"g":91,"b":68},{"h":680,"o":70,"r":50,"g":70,"b":72},{"h":688,"o":75,"r":40,"g":65,"b":65},{"h":696,"o":85,"r":55,"g":60,"b":62},{"h":704,"o":108,"r":45,"g":75,"b":58},{"h":712,"o":80,"r":40,"g":90,"b":65},{"h":720,"o":75,"r":40,"g":80,"b":70},{"h":728,"o":95,"r":50,"g":95,"b":68},{"h":736,"o":115,"r":45,"g":122,"b":62},{"h":744,"o":90,"r":40,"g":80,"b":60},{"h":752,"o":75,"r":35,"g":60,"b":58},{"h":760,"o":60,"r":30,"g":45,"b":55},{"h":768,"o":45,"r":20,"g":30,"b":58},{"h":776,"o":40,"r":15,"g":25,"b":52},{"h":784,"o":35,"r":12,"g":35,"b":45},{"h":792,"o":35,"r":15,"g":35,"b":40},{"h":800,"o":45,"r":12,"g":45,"b":35},{"h":808,"o":83,"r":10,"g":40,"b":38},{"h":816,"o":65,"r":25,"g":45,"b":45},{"h":824,"o":55,"r":30,"g":50,"b":60},{"h":832,"o":50,"r":20,"g":55,"b":75},{"h":840,"o":45,"r":15,"g":40,"b":70},{"h":848,"o":40,"r":20,"g":35,"b":55},{"h":856,"o":38,"r":12,"g":30,"b":50},{"h":864,"o":40,"r":20,"g":30,"b":45},{"h":872,"o":45,"r":25,"g":35,"b":40},{"h":880,"o":50,"r":30,"g":40,"b":38},{"h":888,"o":50,"r":15,"g":35,"b":35},{"h":896,"o":55,"r":12,"g":40,"b":40},{"h":904,"o":45,"r":10,"g":45,"b":42},{"h":912,"o":60,"r":20,"g":45,"b":42},{"h":920,"o":65,"r":25,"g":50,"b":45},{"h":928,"o":55,"r":35,"g":55,"b":50},{"h":936,"o":90,"r":30,"g":60,"b":55},{"h":944,"o":80,"r":40,"g":70,"b":60},{"h":952,"o":70,"r":25,"g":65,"b":70},{"h":960,"o":60,"r":20,"g":55,"b":72},{"h":968,"o":55,"r":15,"g":45,"b":68},{"h":976,"o":65,"r":30,"g":40,"b":55},{"h":984,"o":50,"r":18,"g":35,"b":48},{"h":992,"o":55,"r":12,"g":25,"b":50},{"h":1000,"o":70,"r":8,"g":20,"b":55},{"h":1008,"o":55,"r":12,"g":22,"b":60}],
"g":[{"h":0,"o":60,"r":30,"g":45,"b":55},{"h":8,"o":55,"r":25,"g":40,"b":50},{"h":16,"o":50,"r":20,"g":35,"b":45},{"h":24,"o":45,"r":15,"g":30,"b":45},{"h":32,"o":40,"r":20,"g":35,"b":48},{"h":40,"o":38,"r":12,"g":25,"b":42},{"h":48,"o":35,"r":18,"g":20,"b":40},{"h":56,"o":30,"r":10,"g":25,"b":45},{"h":64,"o":40,"r":15,"g":30,"b":38},{"h":72,"o":40,"r":12,"g":25,"b":42},{"h":80,"o":60,"r":20,"g":30,"b":45},{"h":88,"o":103,"r":15,"g":35,"b":48},{"h":96,"o":70,"r":20,"g":40,"b":50},{"h":104,"o":60,"r":35,"g":35,"b":48},{"h":112,"o":50,"r":25,"g":30,"b":55},{"h":120,"o":88,"r":40,"g":20,"b":55},{"h":128,"o":60,"r":30,"g":25,"b":68},{"h":136,"o":45,"r":15,"g":35,"b":55},{"h":144,"o":70,"r":8,"g":40,"b":50},{"h":152,"o":200,"r":15,"g":230},{"h":160,"o":245,"r":12,"g":140},{"h":168,"o":150,"r":10,"g":60},{"h":176,"o":175,"r":20,"g":40},{"h":184,"o":130,"r":8,"g":35},{"h":192,"o":160,"r":12,"g":45},{"h":200,"o":85,"r":30,"g":60},{"h":208,"o":70,"r":20,"g":40,"b":45},{"h":216,"o":65,"r":15,"g":35,"b":48},{"h":224,"o":60,"r":10,"g":30,"b":42},{"h":232,"o":55,"r":8,"g":25,"b":40},{"h":240,"o":40,"r":12,"g":25,"b":40},{"h":248,"o":35,"r":15,"g":30,"b":45},{"h":256,"o":30,"r":18,"g":35,"b":42},{"h":264,"o":45,"r":20,"g":35,"b":42},{"h":272,"o":40,"r":15,"g":40,"b":40},{"h":280,"o":50,"r":12,"g":30,"b":45},{"h":288,"o":55,"r":8,"g":25,"b":40},{"h":296,"o":45,"r":10,"g":20,"b":38},{"h":304,"o":40,"r":15,"g":30,"b":42},{"h":312,"o":40,"r":12,"g":30,"b":40},{"h":320,"o":35,"r":25,"g":25,"b":45},{"h":328,"o":45,"r":18,"g":20,"b":38},{"h":336,"o":50,"r":5,"g":15,"b":42},{"h":344,"o":55,"r":8,"g":20,"b":40},{"h":352,"o":68,"r":10,"g":30,"b":45},{"h":360,"o":55,"r":10,"g":40,"b":45},{"h":368,"o":50,"r":15,"g":50,"b":50},{"h":376,"o":45,"r":12,"g":45,"b":48},{"h":384,"o":60,"r":20,"g":55,"b":55},{"h":392,"o":55,"r":25,"g":60,"b":50},{"h":400,"o":65,"r":15,"g":50,"b":52},{"h":408,"o":60,"r":15,"g":70,"b":55},{"h":416,"o":98,"r":12,"g":74,"b":70},{"h":424,"o":75,"r":10,"g":55,"b":60},{"h":432,"o":55,"r":25,"g":45,"b":50},{"h":440,"o":50,"r":20,"g":40,"b":48},{"h":448,"o":60,"r":30,"g":35,"b":45},{"h":456,"o":50,"r":15,"g":40,"b":50},{"h":464,"o":55,"r":12,"g":45,"b":52},{"h":472,"o":45,"r":18,"g":35,"b":48},{"h":480,"o":45,"r":20,"g":35,"b":48},{"h":488,"o":50,"r":25,"g":40,"b":45},{"h":496,"o":55,"r":15,"g":45,"b":50},{"h":504,"o":55,"r":18,"g":40,"b":50},{"h":512,"o":50,"r":12,"g":35,"b":55},{"h":520,"o":45,"r":10,"g":30,"b":52},{"h":528,"o":50,"r":15,"g":45,"b":45},{"h":536,"o":45,"r":20,"g":40,"b":48},{"h":544,"o":55,"r":25,"g":35,"b":50},{"h":552,"o":55,"r":20,"g":35,"b":55},{"h":560,"o":50,"r":15,"g":40,"b":52},{"h":568,"o":65,"r":12,"g":5,"b":48},{"h":576,"o":20,"r":25,"g":30,"b":50},{"h":584,"o":45,"r":40,"g":45,"b":55},{"h":592,"o":60,"r":50,"g":55,"b":58},{"h":600,"o":70,"r":30,"g":70,"b":60},{"h":608,"o":80,"r":35,"g":80,"b":65},{"h":616,"o":90,"r":45,"g":75,"b":62},{"h":624,"o":100,"r":55,"g":128,"b":72},{"h":632,"o":115,"r":65,"g":90,"b":75},{"h":640,"o":95,"r":90,"g":75,"b":68},{"h":648,"o":85,"r":50,"g":65,"b":70},{"h":656,"o":75,"r":40,"g":70,"b":65},{"h":664,"o":110,"r":35,"g":80,"b":60},{"h":672,"o":30,"r":30,"g":60,"b":62},{"h":680,"o":35,"r":25,"g":95,"b":58},{"h":688,"o":50,"r":40,"g":70,"b":55},{"h":696,"o":65,"r":45,"g":65,"b":60},{"h":704,"o":70,"r":55,"g":60,"b":65},{"h":712,"o":75,"r":40,"g":75,"b":70},{"h":720,"o":80,"r":50,"g":80,"b":75},{"h":728,"o":96,"r":74,"g":90,"b":72},{"h":736,"o":80,"r":45,"g":95,"b":68},{"h":744,"o":70,"r":35,"g":128,"b":72},{"h":752,"o":65,"r":30,"g":75,"b":70},{"h":760,"o":55,"r":25,"g":60,"b":62},{"h":768,"o":40,"r":12,"g":40,"b":60},{"h":776,"o":35,"r":8,"g":35,"b":55},{"h":784,"o":30,"r":10,"g":30,"b":48},{"h":792,"o":30,"r":10,"g":25,"b":35},{"h":800,"o":25,"r":12,"g":30,"b":30},{"h":808,"o":35,"r":8,"g":35,"b":28},{"h":816,"o":55,"r":15,"g":35,"b":30},{"h":824,"o":60,"r":20,"g":40,"b":35},{"h":832,"o":50,"r":12,"g":45,"b":32},{"h":840,"o":40,"r":8,"g":30,"b":32},{"h":848,"o":35,"r":10,"g":25,"b":28},{"h":856,"o":30,"r":12,"g":35,"b":30},{"h":864,"o":25,"r":15,"g":20,"b":25},{"h":872,"o":30,"r":20,"g":25,"b":28},{"h":880,"o":35,"r":25,"g":30,"b":30},{"h":888,"o":30,"r":20,"g":35,"b":30},{"h":896,"o":79,"r":15,"g":45,"b":32},{"h":904,"o":45,"r":18,"g":50,"b":35},{"h":912,"o":60,"r":30,"g":55,"b":38},{"h":920,"o":70,"r":35,"g":60,"b":40},{"h":928,"o":55,"r":25,"g":65,"b":42},{"h":936,"o":80,"r":25,"g":70,"b":45},{"h":944,"o":130,"r":20,"g":65,"b":48},{"h":952,"o":120,"r":30,"g":60,"b":55},{"h":960,"o":75,"r":15,"g":50,"b":50},{"h":968,"o":70,"r":10,"g":45,"b":52},{"h":976,"o":65,"r":12,"g":55,"b":48},{"h":984,"o":50,"r":5,"g":45,"b":45},{"h":992,"o":45,"r":8,"g":35,"b":42},{"h":1000,"o":40,"r":12,"g":20,"b":45},{"h":1008,"o":45,"r":15,"g":20,"b":40}]
},
"vconcat":[
{"width":1780,"height":356,"data":{"name":"a"},"layer":[
{"mark":{"type":"point","shape":"circle","filled":false,"color":"black","size":150,"strokeWidth":1.6,"opacity":1},"encoding":{"x":{"field":"h","type":"quantitative","scale":{"domain":[0,1008],"nice":false},"axis":{"orient":"top","values":[24,48,72,96,120,144,168,192,216,240,264,288,312,336,360,384,408,432,456,480,504,528,552,576,600,624,648,672,696,720,744,768,792,816,840,864,888,912,936,960,984],"tickSize":-7,"tickWidth":1.5,"labels":false,"domain":false,"title":null}},"y":{"field":"o","type":"quantitative","scale":{"domain":[0,300],"nice":false},"axis":{"values":[100,200,300],"title":null}}}},
{"transform":[{"fold":["r","g","b"],"as":["s","v"]}],"mark":{"type":"line","strokeWidth":5.5,"strokeCap":"round","strokeJoin":"round"},"encoding":{"x":{"field":"h","type":"quantitative"},"y":{"field":"v","type":"quantitative"},"color":{"field":"s","type":"nominal","title":null,"scale":{"domain":["o","r","g","b"],"range":["#000000","#ff0000","#008000","#0000ff"]},"legend":{"orient":"none","legendX":1345,"legendY":0,"padding":14,"strokeColor":"black","fillColor":"white","symbolType":"stroke","symbolSize":15376,"symbolStrokeWidth":6,"clipHeight":42,"rowPadding":5,"symbolOffset":41,"labelFontSize":36,"labelFont":"Liberation Sans","labelFontWeight":"bold","labelColor":"black","labelOffset":72,"labelLimit":400,"labelExpr":"{'o':'AIR KOREA','r':'CMAQ w/o DA','g':'CMAQ w/ DA','b':'LSTM model'}[datum.label]","encode":{"symbols":{"update":{"shape":{"signal":"datum.value==='o'?'circle':'stroke'"},"size":{"signal":"datum.value==='o'?170:15376"},"strokeWidth":{"signal":"datum.value==='o'?1.8:6"},"strokeCap":{"value":"round"},"fill":{"value":"white"},"fillOpacity":{"value":0},"stroke":{"scale":"color","field":"value"},"strokeDash":{"signal":"datum.value==='r'?[19,14]:datum.value==='g'?[17,13,0.5,13]:datum.value==='b'?[12,12]:[1,0]"},"opacity":{"value":1}}}}}},"strokeDash":{"field":"s","type":"nominal","legend":null,"scale":{"domain":["r","g","b"],"range":[[19,14],[17,13,0.5,13],[12,12]]}}}},
{"data":{"values":[{"x1":120,"x2":168}]},"mark":{"type":"rect","color":"#b0b0b0","opacity":0.45},"encoding":{"x":{"field":"x1","type":"quantitative"},"x2":{"field":"x2"}}},
{"data":{"values":[{"x":70,"y":174,"t":"Asian dust"}]},"mark":{"type":"text","fontSize":38,"color":"#7f7f7f"},"encoding":{"x":{"field":"x","type":"quantitative"},"y":{"field":"y","type":"quantitative"},"text":{"field":"t"}}},
{"data":{"values":[{"x":689,"y":262,"t":"(a) Seoul-1"}]},"mark":{"type":"text","fontSize":45,"color":"black"},"encoding":{"x":{"field":"x","type":"quantitative"},"y":{"field":"y","type":"quantitative"},"text":{"field":"t"}}},
{"data":{"values":[{"x":216,"s":"r","t":["IOA: 0.50","RMSE: 48.37","MB: -40.35","MNGE: 65.89","MNB: -65.17"]},{"x":359,"s":"g","t":["IOA: 0.61","RMSE: 37.85","MB: -26.96","MNGE: 50.53","MNB: -43.54"]},{"x":502,"s":"b","t":["IOA: 0.62","RMSE: 24.22","MB: -3.20","MNGE: 49.72","MNB: -5.27"]}]},"mark":{"type":"text","fontSize":30,"align":"left","lineHeight":39.3},"encoding":{"x":{"field":"x","type":"quantitative"},"y":{"datum":268},"color":{"field":"s","type":"nominal","title":null,"scale":{"domain":["o","r","g","b"],"range":["#000000","#ff0000","#008000","#0000ff"]}},"text":{"field":"t"}}}
]},
{"width":1780,"height":356,"data":{"name":"b"},"layer":[
{"mark":{"type":"point","shape":"circle","filled":false,"color":"black","size":150,"strokeWidth":1.6,"opacity":1},"encoding":{"x":{"field":"h","type":"quantitative","scale":{"domain":[0,1008],"nice":false},"axis":{"orient":"top","values":[24,48,72,96,120,144,168,192,216,240,264,288,312,336,360,384,408,432,456,480,504,528,552,576,600,624,648,672,696,720,744,768,792,816,840,864,888,912,936,960,984],"tickSize":-7,"tickWidth":1.5,"labels":false,"domain":false,"title":null}},"y":{"field":"o","type":"quantitative","scale":{"domain":[0,300],"nice":false},"axis":{"values":[100,200,300],"title":null}}}},
{"transform":[{"fold":["r","g","b"],"as":["s","v"]}],"mark":{"type":"line","strokeWidth":5.5,"strokeCap":"round","strokeJoin":"round"},"encoding":{"x":{"field":"h","type":"quantitative"},"y":{"field":"v","type":"quantitative"},"color":{"field":"s","type":"nominal","title":null,"scale":{"domain":["o","r","g","b"],"range":["#000000","#ff0000","#008000","#0000ff"]}},"strokeDash":{"field":"s","type":"nominal","legend":null,"scale":{"domain":["r","g","b"],"range":[[19,14],[17,13,0.5,13],[12,12]]}}}},
{"data":{"values":[{"x1":120,"x2":167}]},"mark":{"type":"rect","color":"#b0b0b0","opacity":0.45},"encoding":{"x":{"field":"x1","type":"quantitative"},"x2":{"field":"x2"}}},
{"data":{"values":[{"x":70,"y":174,"t":"Asian dust"}]},"mark":{"type":"text","fontSize":38,"color":"#7f7f7f"},"encoding":{"x":{"field":"x","type":"quantitative"},"y":{"field":"y","type":"quantitative"},"text":{"field":"t"}}},
{"data":{"values":[{"x":918,"y":262,"t":"(b) Seoul-2"}]},"mark":{"type":"text","fontSize":45,"color":"black"},"encoding":{"x":{"field":"x","type":"quantitative"},"y":{"field":"y","type":"quantitative"},"text":{"field":"t"}}},
{"data":{"values":[{"x":216,"s":"r","t":["IOA: 0.51","RMSE: 45.87","MB: -34.78","MNGE: 63.07","MNB: -62.20"]},{"x":359,"s":"g","t":["IOA: 0.61","RMSE: 37.12","MB: -20.99","MNGE: 49.62","MNB: -37.53"]},{"x":502,"s":"b","t":["IOA: 0.76","RMSE: 21.19","MB: -1.29","MNGE: 46.72","MNB: -2.40"]}]},"mark":{"type":"text","fontSize":30,"align":"left","lineHeight":39.3},"encoding":{"x":{"field":"x","type":"quantitative"},"y":{"datum":268},"color":{"field":"s","type":"nominal","title":null,"scale":{"domain":["o","r","g","b"],"range":["#000000","#ff0000","#008000","#0000ff"]}},"text":{"field":"t"}}}
]},
{"width":1780,"height":356,"data":{"name":"c"},"layer":[
{"mark":{"type":"point","shape":"circle","filled":false,"color":"black","size":150,"strokeWidth":1.6,"opacity":1},"encoding":{"x":{"field":"h","type":"quantitative","scale":{"domain":[0,1008],"nice":false},"axis":{"orient":"top","values":[24,48,72,96,120,144,168,192,216,240,264,288,312,336,360,384,408,432,456,480,504,528,552,576,600,624,648,672,696,720,744,768,792,816,840,864,888,912,936,960,984],"tickSize":-7,"tickWidth":1.5,"labels":false,"domain":false,"title":null}},"y":{"field":"o","type":"quantitative","scale":{"domain":[0,300],"nice":false},"axis":{"values":[100,200,300],"title":null}}}},
{"transform":[{"fold":["r","g","b"],"as":["s","v"]}],"mark":{"type":"line","strokeWidth":5.5,"strokeCap":"round","strokeJoin":"round"},"encoding":{"x":{"field":"h","type":"quantitative"},"y":{"field":"v","type":"quantitative"},"color":{"field":"s","type":"nominal","title":null,"scale":{"domain":["o","r","g","b"],"range":["#000000","#ff0000","#008000","#0000ff"]}},"strokeDash":{"field":"s","type":"nominal","legend":null,"scale":{"domain":["r","g","b"],"range":[[19,14],[17,13,0.5,13],[12,12]]}}}},
{"data":{"values":[{"x1":144,"x2":167}]},"mark":{"type":"rect","color":"#b0b0b0","opacity":0.45},"encoding":{"x":{"field":"x1","type":"quantitative"},"x2":{"field":"x2"}}},
{"data":{"values":[{"x":70,"y":174,"t":"Asian dust"}]},"mark":{"type":"text","fontSize":38,"color":"#7f7f7f"},"encoding":{"x":{"field":"x","type":"quantitative"},"y":{"field":"y","type":"quantitative"},"text":{"field":"t"}}},
{"data":{"values":[{"x":918,"y":262,"t":"(c) Daejeon"}]},"mark":{"type":"text","fontSize":45,"color":"black"},"encoding":{"x":{"field":"x","type":"quantitative"},"y":{"field":"y","type":"quantitative"},"text":{"field":"t"}}},
{"data":{"values":[{"x":216,"s":"r","t":["IOA: 0.46","RMSE: 36.52","MB: -24.68","MNGE: 61.06","MNB: -59.08"]},{"x":359,"s":"g","t":["IOA: 0.78","RMSE: 29.97","MB: -9.43","MNGE: 51.58","MNB: -22.57"]},{"x":502,"s":"b","t":["IOA: 0.67","RMSE: 19.17","MB: 6.28","MNGE: 72.01","MNB: 15.51"]}]},"mark":{"type":"text","fontSize":30,"align":"left","lineHeight":39.3},"encoding":{"x":{"field":"x","type":"quantitative"},"y":{"datum":268},"color":{"field":"s","type":"nominal","title":null,"scale":{"domain":["o","r","g","b"],"range":["#000000","#ff0000","#008000","#0000ff"]}},"text":{"field":"t"}}}
]},
{"width":1780,"height":356,"data":{"name":"d"},"layer":[
{"mark":{"type":"point","shape":"circle","filled":false,"color":"black","size":150,"strokeWidth":1.6,"opacity":1},"encoding":{"x":{"field":"h","type":"quantitative","scale":{"domain":[0,1008],"nice":false},"axis":{"orient":"top","values":[24,48,72,96,120,144,168,192,216,240,264,288,312,336,360,384,408,432,456,480,504,528,552,576,600,624,648,672,696,720,744,768,792,816,840,864,888,912,936,960,984],"tickSize":-7,"tickWidth":1.5,"labels":false,"domain":false,"title":null}},"y":{"field":"o","type":"quantitative","scale":{"domain":[0,300],"nice":false},"axis":{"values":[100,200,300],"title":"PM₁₀ (μg m⁻³)","titleFont":"Liberation Sans","titleFontSize":76,"titleFontWeight":"bold","titleX":-166,"titleY":128,"titleBaseline":"middle","titleAlign":"center","titleAngle":270}}}},
{"transform":[{"fold":["r","g","b"],"as":["s","v"]}],"mark":{"type":"line","strokeWidth":5.5,"strokeCap":"round","strokeJoin":"round"},"encoding":{"x":{"field":"h","type":"quantitative"},"y":{"field":"v","type":"quantitative"},"color":{"field":"s","type":"nominal","title":null,"scale":{"domain":["o","r","g","b"],"range":["#000000","#ff0000","#008000","#0000ff"]}},"strokeDash":{"field":"s","type":"nominal","legend":null,"scale":{"domain":["r","g","b"],"range":[[19,14],[17,13,0.5,13],[12,12]]}}}},
{"data":{"values":[{"x1":122,"x2":167}]},"mark":{"type":"rect","color":"#b0b0b0","opacity":0.45},"encoding":{"x":{"field":"x1","type":"quantitative"},"x2":{"field":"x2"}}},
{"data":{"values":[{"x":70,"y":174,"t":"Asian dust"}]},"mark":{"type":"text","fontSize":38,"color":"#7f7f7f"},"encoding":{"x":{"field":"x","type":"quantitative"},"y":{"field":"y","type":"quantitative"},"text":{"field":"t"}}},
{"data":{"values":[{"x":918,"y":262,"t":"(d) Gwangju"}]},"mark":{"type":"text","fontSize":45,"color":"black"},"encoding":{"x":{"field":"x","type":"quantitative"},"y":{"field":"y","type":"quantitative"},"text":{"field":"t"}}},
{"data":{"values":[{"x":216,"s":"r","t":["IOA: 0.36","RMSE: 51.40","MB: -29.27","MNGE: 70.36","MNB: -63.56"]},{"x":359,"s":"g","t":["IOA: 0.43","RMSE: 46.05","MB: -15.80","MNGE: 57.19","MNB: -34.19"]},{"x":502,"s":"b","t":["IOA: 0.67","RMSE: 18.92","MB: 1.69","MNGE: 74.68","MNB: 3.96"]}]},"mark":{"type":"text","fontSize":30,"align":"left","lineHeight":39.3},"encoding":{"x":{"field":"x","type":"quantitative"},"y":{"datum":268},"color":{"field":"s","type":"nominal","title":null,"scale":{"domain":["o","r","g","b"],"range":["#000000","#ff0000","#008000","#0000ff"]}},"text":{"field":"t"}}}
]},
{"width":1780,"height":356,"data":{"name":"e"},"layer":[
{"mark":{"type":"point","shape":"circle","filled":false,"color":"black","size":150,"strokeWidth":1.6,"opacity":1},"encoding":{"x":{"field":"h","type":"quantitative","scale":{"domain":[0,1008],"nice":false},"axis":{"orient":"top","values":[24,48,72,96,120,144,168,192,216,240,264,288,312,336,360,384,408,432,456,480,504,528,552,576,600,624,648,672,696,720,744,768,792,816,840,864,888,912,936,960,984],"tickSize":-7,"tickWidth":1.5,"labels":false,"domain":false,"title":null}},"y":{"field":"o","type":"quantitative","scale":{"domain":[0,300],"nice":false},"axis":{"values":[100,200,300],"title":null}}}},
{"transform":[{"fold":["r","g","b"],"as":["s","v"]}],"mark":{"type":"line","strokeWidth":5.5,"strokeCap":"round","strokeJoin":"round"},"encoding":{"x":{"field":"h","type":"quantitative"},"y":{"field":"v","type":"quantitative"},"color":{"field":"s","type":"nominal","title":null,"scale":{"domain":["o","r","g","b"],"range":["#000000","#ff0000","#008000","#0000ff"]}},"strokeDash":{"field":"s","type":"nominal","legend":null,"scale":{"domain":["r","g","b"],"range":[[19,14],[17,13,0.5,13],[12,12]]}}}},
{"data":{"values":[{"x1":148,"x2":195}]},"mark":{"type":"rect","color":"#b0b0b0","opacity":0.45},"encoding":{"x":{"field":"x1","type":"quantitative"},"x2":{"field":"x2"}}},
{"data":{"values":[{"x":70,"y":174,"t":"Asian dust"}]},"mark":{"type":"text","fontSize":38,"color":"#7f7f7f"},"encoding":{"x":{"field":"x","type":"quantitative"},"y":{"field":"y","type":"quantitative"},"text":{"field":"t"}}},
{"data":{"values":[{"x":918,"y":262,"t":"(e) Daegu"}]},"mark":{"type":"text","fontSize":45,"color":"black"},"encoding":{"x":{"field":"x","type":"quantitative"},"y":{"field":"y","type":"quantitative"},"text":{"field":"t"}}},
{"data":{"values":[{"x":216,"s":"r","t":["IOA: 0.48","RMSE: 35.73","MB: -28.84","MNGE: 66.86","MNB: -65.17"]},{"x":359,"s":"g","t":["IOA: 0.65","RMSE: 26.23","MB: -16.29","MNGE: 46.69","MNB: -36.78"]},{"x":502,"s":"b","t":["IOA: 0.71","RMSE: 16.46","MB: 6.02","MNGE: 44.12","MNB: 15.26"]}]},"mark":{"type":"text","fontSize":30,"align":"left","lineHeight":39.3},"encoding":{"x":{"field":"x","type":"quantitative"},"y":{"datum":268},"color":{"field":"s","type":"nominal","title":null,"scale":{"domain":["o","r","g","b"],"range":["#000000","#ff0000","#008000","#0000ff"]}},"text":{"field":"t"}}}
]},
{"width":1780,"height":356,"data":{"name":"f"},"layer":[
{"mark":{"type":"point","shape":"circle","filled":false,"color":"black","size":150,"strokeWidth":1.6,"opacity":1},"encoding":{"x":{"field":"h","type":"quantitative","scale":{"domain":[0,1008],"nice":false},"axis":{"orient":"top","values":[24,48,72,96,120,144,168,192,216,240,264,288,312,336,360,384,408,432,456,480,504,528,552,576,600,624,648,672,696,720,744,768,792,816,840,864,888,912,936,960,984],"tickSize":-7,"tickWidth":1.5,"labels":false,"domain":false,"title":null}},"y":{"field":"o","type":"quantitative","scale":{"domain":[0,300],"nice":false},"axis":{"values":[100,200,300],"title":null}}}},
{"transform":[{"fold":["r","g","b"],"as":["s","v"]}],"mark":{"type":"line","strokeWidth":5.5,"strokeCap":"round","strokeJoin":"round"},"encoding":{"x":{"field":"h","type":"quantitative"},"y":{"field":"v","type":"quantitative"},"color":{"field":"s","type":"nominal","title":null,"scale":{"domain":["o","r","g","b"],"range":["#000000","#ff0000","#008000","#0000ff"]}},"strokeDash":{"field":"s","type":"nominal","legend":null,"scale":{"domain":["r","g","b"],"range":[[19,14],[17,13,0.5,13],[12,12]]}}}},
{"data":{"values":[{"x1":148,"x2":195}]},"mark":{"type":"rect","color":"#b0b0b0","opacity":0.45},"encoding":{"x":{"field":"x1","type":"quantitative"},"x2":{"field":"x2"}}},
{"data":{"values":[{"x":70,"y":174,"t":"Asian dust"}]},"mark":{"type":"text","fontSize":38,"color":"#7f7f7f"},"encoding":{"x":{"field":"x","type":"quantitative"},"y":{"field":"y","type":"quantitative"},"text":{"field":"t"}}},
{"data":{"values":[{"x":918,"y":262,"t":"(f) Ulsan"}]},"mark":{"type":"text","fontSize":45,"color":"black"},"encoding":{"x":{"field":"x","type":"quantitative"},"y":{"field":"y","type":"quantitative"},"text":{"field":"t"}}},
{"data":{"values":[{"x":216,"s":"r","t":["IOA: 0.46","RMSE: 55.09","MB: -37.69","MNGE: 67.31","MNB: -70.50"]},{"x":359,"s":"g","t":["IOA: 0.57","RMSE: 44.44","MB: -26.05","MNGE: 52.46","MNB: -48.38"]},{"x":502,"s":"b","t":["IOA: 0.79","RMSE: 18.57","MB: -1.00","MNGE: 37.33","MNB: -2.21"]}]},"mark":{"type":"text","fontSize":30,"align":"left","lineHeight":39.3},"encoding":{"x":{"field":"x","type":"quantitative"},"y":{"datum":268},"color":{"field":"s","type":"nominal","title":null,"scale":{"domain":["o","r","g","b"],"range":["#000000","#ff0000","#008000","#0000ff"]}},"text":{"field":"t"}}}
]},
{"width":1780,"height":356,"data":{"name":"g"},"resolve":{"axis":{"x":"independent"}},"layer":[
{"mark":{"type":"point","shape":"circle","filled":false,"color":"black","size":150,"strokeWidth":1.6,"opacity":1},"encoding":{"x":{"field":"h","type":"quantitative","scale":{"domain":[0,1008],"nice":false},"axis":{"orient":"bottom","values":[0,168,336,504,672,840,1008],"labelExpr":"['5/1','5/8','5/15','5/22','5/29','6/5','6/12'][round(datum.value/168)]","tickSize":8,"labelPadding":12,"labelFlush":false,"labelOverlap":false,"title":null}},"y":{"field":"o","type":"quantitative","scale":{"domain":[0,300],"nice":false},"axis":{"values":[0,100,200,300],"title":null}}}},
{"transform":[{"fold":["r","g","b"],"as":["s","v"]}],"mark":{"type":"line","strokeWidth":5.5,"strokeCap":"round","strokeJoin":"round"},"encoding":{"x":{"field":"h","type":"quantitative","axis":null},"y":{"field":"v","type":"quantitative"},"color":{"field":"s","type":"nominal","title":null,"scale":{"domain":["o","r","g","b"],"range":["#000000","#ff0000","#008000","#0000ff"]}},"strokeDash":{"field":"s","type":"nominal","legend":null,"scale":{"domain":["r","g","b"],"range":[[19,14],[17,13,0.5,13],[12,12]]}}}},
{"data":{"values":[{"x1":148,"x2":195}]},"mark":{"type":"rect","color":"#b0b0b0","opacity":0.45},"encoding":{"x":{"field":"x1","type":"quantitative","axis":{"orient":"top","values":[24,48,72,96,120,144,168,192,216,240,264,288,312,336,360,384,408,432,456,480,504,528,552,576,600,624,648,672,696,720,744,768,792,816,840,864,888,912,936,960,984],"tickSize":-7,"tickWidth":1.5,"labels":false,"domain":false,"title":null}},"x2":{"field":"x2"}}},
{"data":{"values":[{"x":70,"y":174,"t":"Asian dust"}]},"mark":{"type":"text","fontSize":38,"color":"#7f7f7f"},"encoding":{"x":{"field":"x","type":"quantitative","axis":null},"y":{"field":"y","type":"quantitative"},"text":{"field":"t"}}},
{"data":{"values":[{"x":918,"y":262,"t":"(g) Busan"}]},"mark":{"type":"text","fontSize":45,"color":"black"},"encoding":{"x":{"field":"x","type":"quantitative","axis":null},"y":{"field":"y","type":"quantitative"},"text":{"field":"t"}}},
{"data":{"values":[{"x":216,"s":"r","t":["IOA: 0.45","RMSE: 41.79","MB: -27.16","MNGE: 59.77","MNB: -60.13"]},{"x":359,"s":"g","t":["IOA: 0.61","RMSE: 33.11","MB: -15.95","MNGE: 46.28","MNB: -35.31"]},{"x":502,"s":"b","t":["IOA: 0.74","RMSE: 16.58","MB: 0.41","MNGE: 44.37","MNB: 1.03"]}]},"mark":{"type":"text","fontSize":30,"align":"left","lineHeight":39.3},"encoding":{"x":{"field":"x","type":"quantitative","axis":null},"y":{"datum":268},"color":{"field":"s","type":"nominal","title":null,"scale":{"domain":["o","r","g","b"],"range":["#000000","#ff0000","#008000","#0000ff"]}},"text":{"field":"t"}}}
]}
]}
